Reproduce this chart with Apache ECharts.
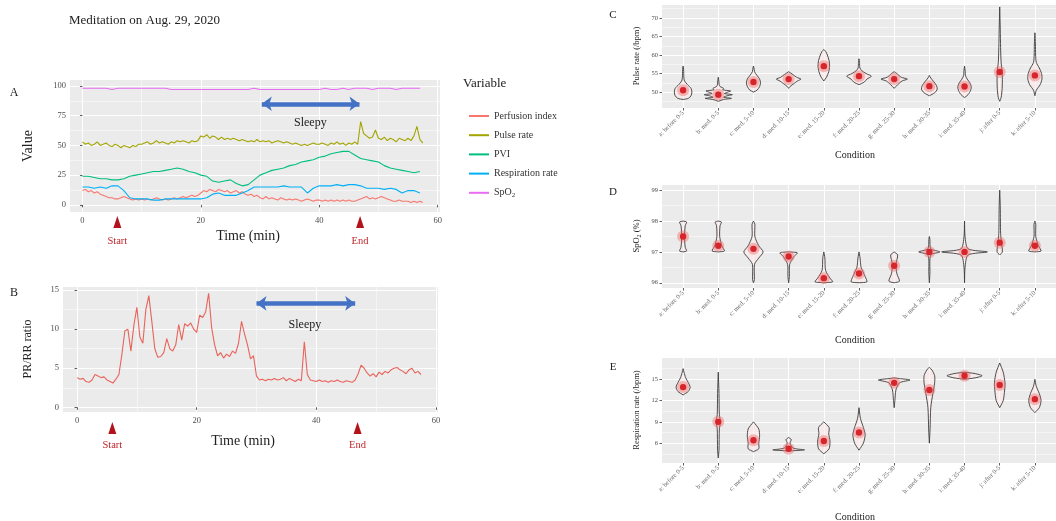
<!DOCTYPE html>
<html>
<head>
<meta charset="utf-8">
<script src="https://cdn.jsdelivr.net/npm/echarts@6.0.0/dist/echarts.min.js"></script>
<style>
    html, body { margin: 0; padding: 0; background: #fff; }
    #main { width: 1056px; height: 521px; }
</style>
</head>
<body>
<div id="main"></div>
<script>
    // time stamps (min)
    var minutesHalf = [];
    for (var i = 0; i < 116; i++) minutesHalf.push(i * 0.5);
    var minutesWhole = [];
    for (var j = 0; j < 58; j++) minutesWhole.push(j);

    // panel A, every 0.5 min
    var pulseRate = [
        53, 51, 52, 50, 51, 53, 50, 51, 52, 50,
        49, 51, 50, 48, 50, 49, 48, 50, 49, 51,
        51, 52, 53, 51, 52, 54, 52, 53, 52, 51,
        53, 52, 54, 53, 54, 53, 52, 54, 53, 54,
        58, 57, 59, 56, 58, 57, 55, 57, 55, 56,
        55, 56, 55, 54, 55, 54, 53, 54, 53, 55,
        53, 54, 53, 54, 52, 53, 54, 53, 52, 53,
        52, 51, 52, 51, 50, 51, 50, 51, 52, 51,
        51, 52, 51, 50, 52, 51, 53, 51, 52, 50,
        52, 51, 53, 51, 70, 60, 58, 56, 57, 63,
        56, 55, 57, 54, 56, 55, 53, 56, 55, 54,
        56, 54, 58, 66, 55, 52
    ];
    var perfusionIndex = [
        12, 13, 11, 12, 10, 11, 9, 8, 7, 6,
        6, 5, 5, 6, 7, 6, 5, 4, 5, 4,
        5, 4, 5, 4, 5, 6, 5, 4, 5, 4,
        5, 6, 5, 6, 7, 6, 7, 8, 7, 8,
        10, 12, 11, 13, 12, 11, 13, 12, 11, 12,
        10, 11, 12, 10, 11, 9, 8, 9, 7, 8,
        6, 5, 7, 5, 6, 5, 4, 6, 5, 4,
        5, 4, 5, 4, 3, 4, 5, 4, 3, 4,
        4, 3, 4, 3, 4, 3, 4, 3, 4, 3,
        4, 3, 3, 4, 5, 6, 7, 5, 6, 5,
        6, 7, 6, 5, 4, 3, 3, 4, 3, 3,
        3, 2, 3, 2, 3, 2
    ];
    // panel A, every 1 min
    var respirationRate = [
        15, 15, 14, 15, 14, 16, 16, 12, 6, 5,
        5, 5, 4, 4, 5, 5, 5, 5, 5, 5,
        5, 6, 9, 10, 8, 8, 8, 10, 12, 15,
        15, 15, 15, 15, 16, 15, 15, 15, 10, 14,
        16, 16, 16, 17, 16, 17, 17, 16, 14, 14,
        14, 13, 14, 13, 10, 12, 12, 10
    ];
    var pvi = [
        24, 24, 23, 22, 22, 21, 21, 22, 24, 25,
        26, 27, 28, 28, 29, 30, 31, 30, 28, 27,
        25, 24, 20, 19, 20, 21, 18, 16, 17, 21,
        25, 27, 29, 30, 31, 33, 34, 36, 37, 38,
        40, 41, 43, 44, 45, 45, 42, 39, 38, 37,
        36, 33, 31, 30, 29, 28, 27, 28
    ];
    var spo2 = [
        98, 98, 98, 98, 98, 97, 98, 98, 98, 98,
        98, 98, 98, 98, 98, 97, 97, 97, 97, 97,
        97, 97, 97, 97, 97, 97, 97, 97, 97, 98,
        97, 97, 97, 97, 97, 97, 97, 97, 97, 97,
        97, 98, 97, 97, 98, 97, 98, 98, 98, 97,
        98, 98, 98, 97, 98, 98, 98, 98
    ];

    // panel B, every 0.5 min
    var prRrRatio = [
        3.8, 3.6, 3.7, 3.3, 3.2, 3.5, 4.2, 4.0, 3.8, 3.9,
        3.5, 3.3, 3.1, 3.6, 4.2, 6.8, 9.8, 10.0, 7.2, 10.5,
        12.8, 9.0, 8.2, 12.5, 14.3, 11.0, 7.5, 6.4, 6.5, 7.0,
        8.8, 7.5, 7.2, 8.0, 10.6, 8.6, 10.7, 10.4, 10.8, 10.0,
        9.6, 11.8, 11.5, 12.2, 14.6, 10.2, 8.0, 6.6, 7.0, 6.3,
        6.8, 6.5, 7.2, 6.9, 8.2, 11.0, 9.4, 8.0, 6.2, 6.6,
        4.0, 3.5, 3.6, 3.4, 3.6, 3.5, 3.7, 3.5, 3.6, 3.8,
        3.4, 3.7, 3.5, 3.3, 3.6, 3.4, 8.4, 4.2, 3.5, 3.4,
        3.3, 3.5, 3.3, 3.4, 3.2, 3.4, 3.3, 3.5, 3.3, 3.2,
        3.4, 3.3, 3.2, 3.5, 4.3, 5.4, 5.0, 4.4, 4.0, 4.3,
        3.9, 4.5, 4.2, 4.6, 4.4, 4.8, 5.0, 5.1, 4.8, 4.6,
        4.3, 4.8, 5.0, 4.4, 4.6, 4.2
    ];

    var markTimes = [5.9, 46.9];
    var markNames = ['Start', 'End'];
    var sleepySpan = [30.3, 46.8];

    var conditions = ['a: before 0-5', 'b: med. 0-5', 'c: med. 5-10', 'd: med. 10-15', 'e: med. 15-20',
        'f: med. 20-25', 'g: med. 25-30', 'h: med. 30-35', 'i: med. 35-40', 'j: after 0-5', 'k: after 5-10'];

    // violins: [value, relative half width]
    var pulseMean = [50.5, 49.3, 52.7, 53.5, 57.0, 54.3, 53.5, 51.6, 51.5, 55.4, 54.5];
    var pulseViolin = [
        [[48, 0], [48.3, 0.3], [49, 0.45], [50, 0.5], [51, 0.45], [52, 0.25], [53, 0.08], [54, 0.04], [56, 0.03], [57, 0]],
        [[47.5, 0], [48, 0.3], [48.3, 0.75], [48.6, 0.3], [49, 0.5], [49.3, 0.8], [49.6, 0.35], [50, 0.55], [50.3, 0.7], [50.6, 0.25], [51, 0.3], [51.5, 0.1], [52, 0.05], [53, 0.03], [54, 0]],
        [[50, 0], [50.5, 0.2], [51.5, 0.35], [52.5, 0.4], [53.5, 0.35], [54.5, 0.2], [55.5, 0.06], [56.5, 0.03], [57, 0]],
        [[51, 0], [51.5, 0.08], [52.3, 0.3], [53, 0.5], [53.5, 0.7], [54, 0.45], [54.7, 0.25], [55.5, 0]],
        [[53, 0], [54, 0.15], [55.5, 0.28], [57, 0.33], [58.5, 0.3], [60, 0.2], [61, 0.1], [61.5, 0]],
        [[52, 0], [52.7, 0.3], [53.5, 0.45], [54.3, 0.7], [55, 0.4], [55.8, 0.15], [56.5, 0.05], [58, 0.03], [59, 0]],
        [[51, 0], [52, 0.2], [53, 0.45], [53.5, 0.75], [54, 0.4], [55, 0.15], [55.5, 0]],
        [[49, 0], [49.8, 0.3], [50.8, 0.45], [51.8, 0.4], [52.8, 0.25], [53.8, 0.08], [54.5, 0]],
        [[48.5, 0], [49.3, 0.2], [50.5, 0.35], [51.5, 0.38], [52.5, 0.3], [53.5, 0.15], [54.5, 0.05], [55.5, 0.04], [57, 0]],
        [[47.5, 0], [48.5, 0.08], [51, 0.14], [54, 0.15], [56, 0.13], [58, 0.08], [62, 0.05], [67, 0.03], [73, 0]],
        [[49, 0], [50.5, 0.08], [52, 0.3], [53.5, 0.4], [55, 0.38], [56.5, 0.25], [58, 0.08], [60, 0.04], [63, 0.03], [66, 0]]
    ];
    var spo2Mean = [97.5, 97.2, 97.1, 96.85, 96.15, 96.3, 96.55, 97.0, 97.0, 97.3, 97.2];
    var spo2Violin = [
        [[97, 0], [97.03, 0.2], [97.15, 0.12], [97.5, 0.08], [97.85, 0.12], [97.97, 0.2], [98, 0]],
        [[97, 0], [97.03, 0.35], [97.2, 0.2], [97.5, 0.08], [97.85, 0.1], [97.97, 0.18], [98, 0]],
        [[96, 0], [96.1, 0.05], [96.6, 0.06], [96.8, 0.3], [97, 0.55], [97.2, 0.3], [97.5, 0.08], [97.9, 0.08], [98, 0]],
        [[96, 0], [96.2, 0.04], [96.6, 0.06], [96.85, 0.3], [96.97, 0.5], [97, 0]],
        [[96, 0], [96.03, 0.5], [96.15, 0.35], [96.4, 0.1], [96.8, 0.06], [97, 0]],
        [[96, 0], [96.03, 0.45], [96.2, 0.35], [96.5, 0.12], [96.8, 0.06], [97, 0]],
        [[96, 0], [96.05, 0.3], [96.3, 0.15], [96.6, 0.1], [96.9, 0.2], [97, 0]],
        [[96, 0], [96.3, 0.03], [96.9, 0.08], [97, 0.6], [97.1, 0.08], [97.4, 0.03], [97.5, 0]],
        [[96, 0], [96.5, 0.03], [96.9, 0.2], [97, 1.3], [97.1, 0.2], [97.5, 0.03], [98, 0]],
        [[96.9, 0], [97, 0.15], [97.3, 0.1], [97.6, 0.05], [98, 0.04], [98.5, 0.03], [99, 0]],
        [[97, 0], [97.03, 0.35], [97.2, 0.2], [97.5, 0.05], [97.9, 0.05], [98, 0]]
    ];
    var respMean = [13.9, 9.0, 6.4, 5.2, 6.3, 7.5, 14.5, 13.5, 15.5, 14.2, 12.2];
    var respViolin = [
        [[12.8, 0], [13.3, 0.3], [13.9, 0.4], [14.5, 0.3], [15.2, 0.15], [16, 0.05], [16.5, 0]],
        [[3.9, 0], [5, 0.04], [8, 0.06], [9, 0.12], [10, 0.06], [13, 0.04], [16, 0]],
        [[4.8, 0], [5.2, 0.3], [6, 0.3], [7, 0.35], [8, 0.3], [9, 0]],
        [[4.9, 0], [5.05, 0.9], [5.3, 0.25], [6, 0.08], [6.5, 0.15], [6.8, 0]],
        [[4.5, 0], [5.2, 0.3], [6.3, 0.35], [7.3, 0.28], [8.2, 0.3], [9, 0]],
        [[5, 0], [6, 0.25], [7.2, 0.35], [8.2, 0.25], [9.5, 0.08], [11, 0]],
        [[11, 0], [12, 0.04], [13.5, 0.1], [14.5, 0.3], [14.9, 0.9], [15.1, 0.3], [15.2, 0]],
        [[6, 0], [8, 0.04], [11, 0.08], [13, 0.2], [14.5, 0.3], [15.5, 0.3], [16.3, 0.15], [16.7, 0]],
        [[15, 0], [15.2, 0.6], [15.5, 1.0], [15.8, 0.6], [16, 0]],
        [[11, 0], [12, 0.2], [13.5, 0.28], [14.5, 0.3], [16, 0.2], [17.3, 0]],
        [[10.3, 0], [11, 0.25], [12, 0.35], [13, 0.25], [14, 0.08], [15, 0]]
    ];

    var SERIF = '"Liberation Serif", "DejaVu Serif", serif';
    var GRID_BG = '#EBEBEB';

    function valAxes(grid, min, max, ticks, minors, fontSize, formatter) {
        var main = {
            type: 'value', gridIndex: grid, min: min, max: max, position: 'bottom',
            axisLine: { show: false },
            axisTick: { show: true, length: 2.5, lineStyle: { color: '#333', width: 0.8 }, customValues: ticks },
            axisLabel: { customValues: ticks, fontFamily: SERIF, fontSize: fontSize, color: '#4D4D4D', margin: 4, formatter: formatter },
            splitLine: { show: true, lineStyle: { color: '#fff', width: 1 } }
        };
        var list = [main];
        if (minors) {
            list.push({
                type: 'value', gridIndex: grid, min: min, max: max, position: 'bottom',
                axisLine: { show: false },
                axisTick: { show: false, customValues: minors },
                axisLabel: { show: false, customValues: minors },
                splitLine: { show: true, lineStyle: { color: '#fff', width: 0.5 } }
            });
        }
        return list;
    }

    function lineSeries(name, times, values, color, xi, yi) {
        return {
            name: name, type: 'line', xAxisIndex: xi, yAxisIndex: yi,
            data: times.map(function (t, k) { return [t, values[k]]; }),
            showSymbol: false, symbol: 'none',
            lineStyle: { width: 1.1, color: color }, itemStyle: { color: color }
        };
    }

    function violinSeries(xi, yi, profiles, means) {
        return {
            type: 'custom', xAxisIndex: xi, yAxisIndex: yi,
            data: means.map(function (m, k) { return [k + 1, m]; }),
            renderItem: function (params, api) {
                var k = params.dataIndex;
                var prof = profiles[k];
                var cx = k + 1;
                var half = api.size([1, 0])[0] / 2;
                var pts = [];
                prof.forEach(function (p) {
                    var c = api.coord([cx, p[0]]);
                    pts.push([c[0] + p[1] * half, c[1]]);
                });
                for (var q = prof.length - 1; q >= 0; q--) {
                    var c2 = api.coord([cx, prof[q][0]]);
                    pts.push([c2[0] - prof[q][1] * half, c2[1]]);
                }
                var m = api.coord([cx, means[k]]);
                return {
                    type: 'group', children: [
                        { type: 'polygon', shape: { points: pts, smooth: 0.25 }, style: { fill: 'rgba(255,232,232,0.55)', stroke: '#3b3b3b', lineWidth: 0.9 } },
                        { type: 'circle', shape: { cx: m[0], cy: m[1], r: 6 }, style: { fill: 'rgba(240,110,110,0.45)' } },
                        { type: 'circle', shape: { cx: m[0], cy: m[1], r: 3.2 }, style: { fill: '#D7262B' } }
                    ]
                };
            }
        };
    }

    var condFormatter = function (v) { return conditions[Math.round(v) - 1] || ''; };
    var condTicks = [1, 2, 3, 4, 5, 6, 7, 8, 9, 10, 11];

    var xAxes = [].concat(
        valAxes(0, -2.1, 60.4, [0, 20, 40, 60], [10, 30, 50], 8.5),          // 0,1
        valAxes(1, -2.35, 60.35, [0, 20, 40, 60], [10, 30, 50], 8.5),        // 2,3
        valAxes(2, 0.4, 11.6, condTicks, null, 6.5, condFormatter),         // 4
        valAxes(3, 0.4, 11.6, condTicks, null, 6.5, condFormatter),         // 5
        valAxes(4, 0.4, 11.6, condTicks, null, 6.5, condFormatter)          // 6
    );
    [4, 5, 6].forEach(function (k) {
        xAxes[k].axisLabel.rotate = 45;
        xAxes[k].axisLabel.color = '#6a6a6a';
    });
    var yAxes = [].concat(
        valAxes(0, -6, 105, [0, 25, 50, 75, 100], [12.5, 37.5, 62.5, 87.5], 8.5),   // 0,1
        valAxes(1, -0.6, 15.4, [0, 5, 10, 15], [2.5, 7.5, 12.5], 8.5),             // 2,3
        valAxes(2, 45.7, 73.5, [50, 55, 60, 65, 70], [47.5, 52.5, 57.5, 62.5, 67.5, 72.5], 6.5), // 4,5
        valAxes(3, 95.83, 99.17, [96, 97, 98, 99], [96.5, 97.5, 98.5], 6.5),       // 6,7
        valAxes(4, 3.2, 18, [6, 9, 12, 15], [4.5, 7.5, 10.5, 13.5, 16.5], 6.5)     // 8,9
    );
    yAxes.forEach(function (a) { a.position = 'left'; });

    var arrowStyle = { color: '#4472C4', width: 4.5, type: 'solid' };

    var chart = echarts.init(document.getElementById('main'));
    var aSeries = [
        lineSeries('Perfusion index', minutesHalf, perfusionIndex, '#F8766D', 0, 0),
        lineSeries('Pulse rate', minutesHalf, pulseRate, '#A3A500', 0, 0),
        lineSeries('PVI', minutesWhole, pvi, '#00BF7D', 0, 0),
        lineSeries('Respiration rate', minutesWhole, respirationRate, '#00B0F6', 0, 0),
        lineSeries('SpO2', minutesWhole, spo2, '#E76BF3', 0, 0)
    ];
    aSeries[4].markLine = {
        silent: true, symbol: ['arrow', 'arrow'], symbolSize: [11, 10], label: { show: false },
        lineStyle: arrowStyle, emphasis: { disabled: true },
        data: [[{ coord: [sleepySpan[0], 85] }, { coord: [sleepySpan[1], 85] }]]
    };
    var bSeries = lineSeries('PR/RR ratio', minutesHalf, prRrRatio, '#E8635A', 2, 2);
    bSeries.markLine = {
        silent: true, symbol: ['arrow', 'arrow'], symbolSize: [11, 10], label: { show: false },
        lineStyle: arrowStyle, emphasis: { disabled: true },
        data: [[{ coord: [sleepySpan[0] - 0.3, 13.3] }, { coord: [sleepySpan[1] - 0.3, 13.3] }]]
    };

    var option = {
        animation: false,
        backgroundColor: '#fff',
        title: {
            text: 'Meditation on Aug. 29, 2020', left: 64, top: 9,
            textStyle: { fontFamily: SERIF, fontSize: 13, fontWeight: 'normal', color: '#222' }
        },
        grid: [
            { left: 70, top: 80, width: 370, height: 132, show: true, backgroundColor: GRID_BG, borderWidth: 0 },
            { left: 63, top: 287, width: 375, height: 125, show: true, backgroundColor: GRID_BG, borderWidth: 0 },
            { left: 662, top: 5, width: 403, height: 103, show: true, backgroundColor: GRID_BG, borderWidth: 0 },
            { left: 662, top: 185, width: 403, height: 103, show: true, backgroundColor: GRID_BG, borderWidth: 0 },
            { left: 662, top: 358, width: 403, height: 105, show: true, backgroundColor: GRID_BG, borderWidth: 0 }
        ],
        legend: {
            data: ['Perfusion index', 'Pulse rate', 'PVI', 'Respiration rate', 'SpO2'],
            orient: 'vertical', left: 464, top: 105, itemWidth: 20, itemHeight: 2, itemGap: 7.2,
            icon: 'rect',
            formatter: function (n) { return n === 'SpO2' ? 'SpO{sub|2}' : n; },
            textStyle: {
                fontFamily: SERIF, fontSize: 10, color: '#333', lineHeight: 12,
                rich: { sub: { fontFamily: SERIF, fontSize: 7, verticalAlign: 'bottom', padding: [5, 0, 0, 0] } }
            }
        },
        xAxis: xAxes,
        yAxis: yAxes,
        series: aSeries.concat([
            bSeries,
            violinSeries(4, 4, pulseViolin, pulseMean),
            violinSeries(5, 6, spo2Violin, spo2Mean),
            violinSeries(6, 8, respViolin, respMean)
        ])
    };
    chart.setOption(option);

    // annotations and titles
    function txt(x, y, text, size, opts) {
        opts = opts || {};
        return {
            type: 'text', x: x, y: y, rotation: opts.rotation || 0,
            style: {
                text: text, fontFamily: SERIF, fontSize: size, fill: opts.color || '#222',
                fontWeight: opts.weight || 'normal',
                align: opts.align || 'center', verticalAlign: 'middle', rich: opts.rich
            }
        };
    }
    var graphics = [
        txt(14, 93, 'A', 12),
        txt(14, 293, 'B', 12),
        txt(613, 15, 'C', 11),
        txt(613, 192, 'D', 11),
        txt(613, 367, 'E', 11),
        txt(28, 146, 'Value', 14, { rotation: Math.PI / 2 }),
        txt(28, 349, 'PR/RR ratio', 12, { rotation: Math.PI / 2 }),
        txt(248, 236, 'Time (min)', 14),
        txt(243, 441, 'Time (min)', 14),
        txt(463, 84, 'Variable', 13, { align: 'left' }),
        txt(637, 56, 'Pulse rate (/bpm)', 8.5, { rotation: Math.PI / 2 }),
        txt(637, 236, 'SpO{s|2} (%)', 8.5, { rotation: Math.PI / 2, rich: { s: { fontFamily: SERIF, fontSize: 6, verticalAlign: 'bottom', padding: [4, 0, 0, 0] } } }),
        txt(637, 410, 'Respiration rate (/bpm)', 8.5, { rotation: Math.PI / 2 }),
        txt(855, 155, 'Condition', 10),
        txt(855, 340, 'Condition', 10),
        txt(855, 517, 'Condition', 10)
    ];
    var pa = chart.convertToPixel({ xAxisIndex: 0, yAxisIndex: 0 }, [38.5, 69]);
    graphics.push(txt(pa[0], pa[1], 'Sleepy', 12));
    var pb = chart.convertToPixel({ xAxisIndex: 2, yAxisIndex: 2 }, [38.1, 10.6]);
    graphics.push(txt(pb[0], pb[1], 'Sleepy', 12));
    markTimes.forEach(function (t, k) {
        var xa = chart.convertToPixel({ xAxisIndex: 0 }, t);
        var xb = chart.convertToPixel({ xAxisIndex: 2 }, t);
        [[xa, 222, 241], [xb, 428, 445]].forEach(function (p) {
            graphics.push({
                type: 'polygon',
                shape: { points: [[p[0] - 4, p[1] + 6], [p[0] + 4, p[1] + 6], [p[0], p[1] - 6]] },
                style: { fill: '#B3121B' }
            });
            graphics.push(txt(p[0], p[2], markNames[k], 10.5, { color: '#C0262B' }));
        });
    });
    chart.setOption({ graphic: graphics });
</script>
</body>
</html>
